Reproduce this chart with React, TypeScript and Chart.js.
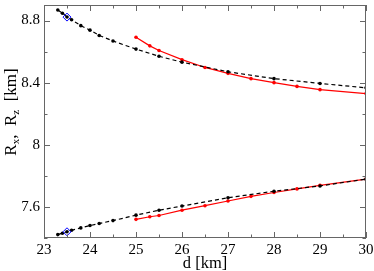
import React, { useEffect, useRef } from "react";
import { Chart, registerables } from "chart.js";

Chart.register(...registerables);

const blackX = [23.3, 23.4, 23.5, 23.6, 23.8, 24.0, 24.2, 24.5, 25, 25.5, 26, 27, 28, 29, 30];
const blackUpper = [8.868, 8.847, 8.823, 8.805, 8.767, 8.738, 8.704, 8.668, 8.616, 8.57, 8.532, 8.47, 8.426, 8.395, 8.367];
const blackLower = [7.422, 7.431, 7.44, 7.45, 7.465, 7.48, 7.493, 7.512, 7.547, 7.579, 7.606, 7.659, 7.701, 7.735, 7.779];

const redX = [25, 25.3, 25.5, 26, 26.5, 27, 27.5, 28, 28.5, 29, 30];
const redUpper = [8.692, 8.637, 8.607, 8.548, 8.498, 8.46, 8.426, 8.4, 8.376, 8.355, 8.33];
const redLower = [7.52, 7.537, 7.545, 7.579, 7.608, 7.638, 7.668, 7.693, 7.716, 7.739, 7.779];

const diamondX = [23.5, 23.5];
const diamondY = [8.822, 7.44];

const xMajorTicks = [23, 24, 25, 26, 27, 28, 29, 30];
const xMinorTicks = [23.5, 24.5, 25.5, 26.5, 27.5, 28.5, 29.5];
const yMajorTicks = [7.6, 8.0, 8.4, 8.8];
const yMinorTicks = [7.4, 7.8, 8.2, 8.6];

const xTitle = "d [km]";
const FONT = "'Liberation Serif', 'DejaVu Serif', serif";

const pts = (xs: number[], ys: number[]) => xs.map((x, i) => ({ x, y: ys[i] }));

const framePlugin = {
  id: "frame",
  afterDraw(chart: any) {
    const { ctx, chartArea: a, scales } = chart;
    const xs = scales.x;
    const ys = scales.y;
    ctx.save();
    ctx.strokeStyle = "#666";
    ctx.lineWidth = 1;
    ctx.strokeRect(a.left + 0.5, a.top + 0.5, a.right - a.left - 1, a.bottom - a.top - 1);
    const major = 6;
    const minor = 3.5;
    ctx.beginPath();
    const vt = (v: number, len: number) => {
      const px = Math.round(xs.getPixelForValue(v)) + 0.5;
      ctx.moveTo(px, a.bottom);
      ctx.lineTo(px, a.bottom - len);
      ctx.moveTo(px, a.top);
      ctx.lineTo(px, a.top + len);
    };
    const ht = (v: number, len: number) => {
      const py = Math.round(ys.getPixelForValue(v)) + 0.5;
      ctx.moveTo(a.left, py);
      ctx.lineTo(a.left + len, py);
      ctx.moveTo(a.right, py);
      ctx.lineTo(a.right - len, py);
    };
    xMajorTicks.forEach((v) => vt(v, major));
    xMinorTicks.forEach((v) => vt(v, minor));
    yMajorTicks.forEach((v) => ht(v, major));
    yMinorTicks.forEach((v) => ht(v, minor));
    ctx.stroke();

    // x title
    ctx.fillStyle = "#000";
    ctx.font = `16.5px ${FONT}`;
    ctx.textAlign = "center";
    ctx.textBaseline = "alphabetic";
    ctx.fillText(xTitle, (a.left + a.right) / 2, 268);

    // y title with subscripts
    const segs = [
      { t: "R", s: 17, dy: 0 },
      { t: "x", s: 11, dy: 3 },
      { t: ",  R", s: 17, dy: 0 },
      { t: "z", s: 11, dy: 3 },
      { t: "  [km]", s: 17, dy: 0 },
    ];
    let total = 0;
    segs.forEach((g) => {
      ctx.font = `${g.s}px ${FONT}`;
      total += ctx.measureText(g.t).width;
    });
    ctx.translate(16, 112);
    ctx.rotate(-Math.PI / 2);
    ctx.textAlign = "left";
    let cx = -total / 2;
    segs.forEach((g) => {
      ctx.font = `${g.s}px ${FONT}`;
      ctx.fillText(g.t, cx, g.dy);
      cx += ctx.measureText(g.t).width;
    });
    ctx.restore();
  },
};

export default function App() {
  const ref = useRef<HTMLCanvasElement>(null);
  useEffect(() => {
    document.body.style.margin = "0";
    const canvas = ref.current;
    if (!canvas) return;
    const chart = new Chart(canvas, {
      type: "line",
      data: {
        datasets: [
          {
            data: pts(diamondX, diamondY),
            showLine: false,
            pointStyle: "rectRot",
            pointRadius: 4,
            borderColor: "#0000ff",
            backgroundColor: "rgba(0,0,0,0)",
            pointBorderWidth: 1,
            order: 0,
          },
          {
            data: pts(blackX, blackUpper),
            borderColor: "#000",
            backgroundColor: "#000",
            borderWidth: 1.2,
            borderDash: [4, 3],
            pointRadius: 1.8,
            pointBorderWidth: 0,
            order: 1,
          },
          {
            data: pts(blackX, blackLower),
            borderColor: "#000",
            backgroundColor: "#000",
            borderWidth: 1.2,
            borderDash: [4, 3],
            pointRadius: 1.8,
            pointBorderWidth: 0,
            order: 1,
          },
          {
            data: pts(redX, redUpper),
            borderColor: "#ff0000",
            backgroundColor: "#ff0000",
            borderWidth: 1.2,
            pointRadius: 1.8,
            pointBorderWidth: 0,
            order: 2,
          },
          {
            data: pts(redX, redLower),
            borderColor: "#ff0000",
            backgroundColor: "#ff0000",
            borderWidth: 1.2,
            pointRadius: 1.8,
            pointBorderWidth: 0,
            order: 2,
          },
        ],
      },
      options: {
        animation: false,
        responsive: false,
        devicePixelRatio: 1,
        layout: { padding: { top: 1, right: 8, left: 0, bottom: 0 } },
        plugins: { legend: { display: false }, tooltip: { enabled: false } },
        elements: { line: { tension: 0 } },
        scales: {
          x: {
            type: "linear",
            min: 23,
            max: 30,
            grid: { display: false, drawTicks: false },
            border: { display: false },
            afterBuildTicks: (s: any) => {
              s.ticks = xMajorTicks.map((v) => ({ value: v }));
            },
            afterFit: (s: any) => {
              s.height = 33;
              s.paddingLeft = 0;
              s.paddingRight = 0;
            },
            ticks: {
              autoSkip: false,
              maxRotation: 0,
              padding: 3,
              color: "#000",
              font: { family: FONT, size: 15 },
              callback: (v: any) => String(v),
            },
          },
          y: {
            type: "linear",
            min: 7.4,
            max: 8.9,
            grid: { display: false, drawTicks: false },
            border: { display: false },
            afterBuildTicks: (s: any) => {
              s.ticks = yMajorTicks.map((v) => ({ value: v }));
            },
            afterFit: (s: any) => {
              s.width = 44;
              s.paddingTop = 0;
              s.paddingBottom = 0;
            },
            ticks: {
              autoSkip: false,
              padding: 4,
              color: "#000",
              font: { family: FONT, size: 15 },
              callback: (v: any) => String(Math.round(v * 10) / 10),
            },
          },
        },
      },
      plugins: [framePlugin],
    } as any);
    return () => chart.destroy();
  }, []);
  return (
    <div style={{ position: "absolute", left: 0, top: 0, width: 374, height: 271 }}>
      <canvas ref={ref} width={374} height={271} style={{ display: "block" }} />
    </div>
  );
}
